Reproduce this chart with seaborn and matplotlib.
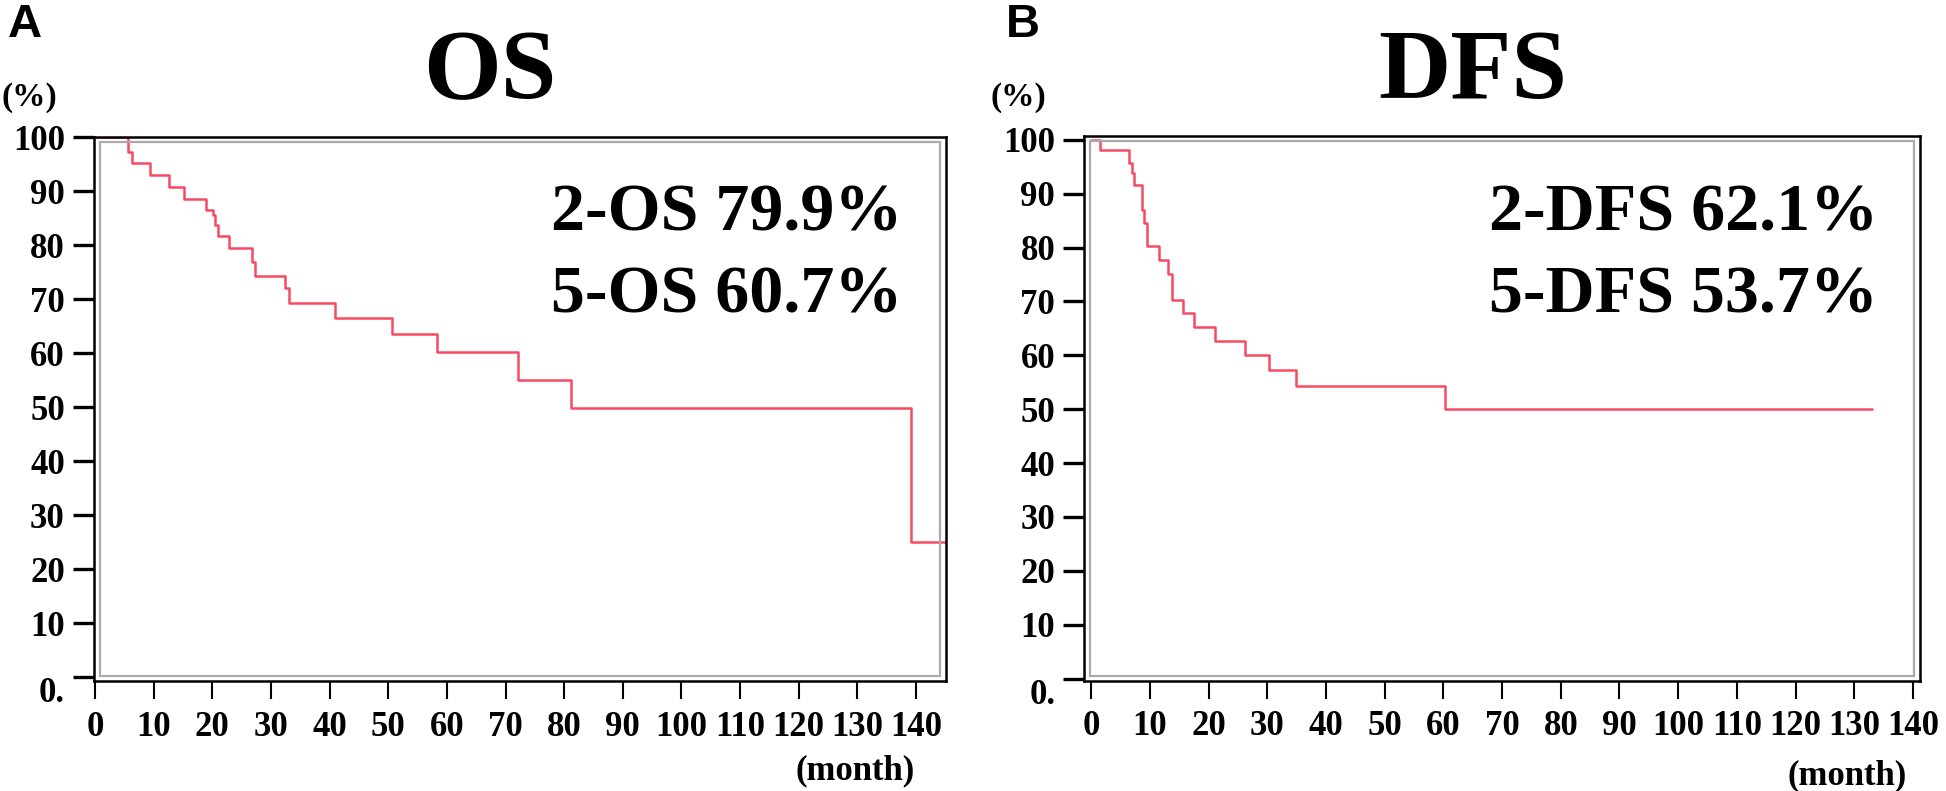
import matplotlib
matplotlib.use("Agg")
import matplotlib.pyplot as plt
from matplotlib.patches import Rectangle
import seaborn as sns

# Kaplan-Meier steps (month, % surviving)
os_months = [0, 5.7, 6.3, 9.4, 12.7, 15.1, 18.9, 20.2, 20.5, 21.0, 22.8, 26.7, 27.3,
             32.4, 33.0, 41.0, 50.6, 58.3, 72.1, 81.1, 139.2, 145.0]
os_pct = [100, 97.4, 95.2, 93.1, 90.9, 88.6, 86.6, 85.7, 83.8, 81.7, 79.5, 77.0, 74.4,
          72.1, 69.3, 66.5, 63.5, 60.3, 55.1, 49.9, 25.0, 25.0]

dfs_months = [0, 1.5, 6.5, 6.9, 7.3, 8.6, 9.0, 9.4, 11.6, 13.0, 13.7, 15.6, 17.5,
              21.1, 26.2, 30.2, 34.9, 60.3, 133.0]
dfs_pct = [100, 98.1, 95.7, 93.8, 91.6, 87.0, 84.5, 80.2, 77.7, 75.1, 70.3, 67.8, 65.2,
           62.7, 60.0, 57.2, 54.3, 50.1, 50.1]

panel_letters = ["A", "B"]
titles = ["OS", "DFS"]
rate_text = [["2-OS 79.9%", "5-OS 60.7%"], ["2-DFS 62.1%", "5-DFS 53.7%"]]
y_ticks = list(range(0, 101, 10))
y_tick_labels = ["0."] + [str(v) for v in y_ticks[1:]]
x_ticks = list(range(0, 141, 10))

sns.set_style("ticks")
plt.rcParams["font.family"] = ["Liberation Serif", "DejaVu Serif"]
plt.rcParams["font.weight"] = "bold"
plt.rcParams["text.color"] = "black"
plt.rcParams["xtick.color"] = "black"
plt.rcParams["ytick.color"] = "black"
plt.rcParams["axes.labelcolor"] = "black"

LINE_COLOR = "#f64a63"

fig = plt.figure(figsize=(19.46, 7.91), dpi=100)

# axes boxes [left, bottom, width, height] and x limits for each panel
boxes = [[0.0483, 0.1385, 0.4378, 0.6877], [0.5572, 0.1395, 0.4294, 0.6885]]
xlims = [(-0.17, 145.1), (-1.2, 141.2)]
ylims = [(-0.8, 100.0), (-0.4, 100.7)]
curves = [(os_months, os_pct), (dfs_months, dfs_pct)]

letter_x = [0.004, 0.517]
pct_x = [0.001, 0.509]
title_x = [0.2515, 0.757]
rate_right = [0.4635, 0.965]
month_x = [0.4394, 0.949]
month_y = [0.026, 0.019]

for i in range(2):
    ax = fig.add_axes(boxes[i])
    months, pct = curves[i]
    sns.lineplot(x=months, y=pct, ax=ax, drawstyle="steps-post", color=LINE_COLOR,
                 linewidth=1.8, estimator=None, errorbar=None, zorder=2)
    ax.set_xlim(*xlims[i])
    ax.set_ylim(*ylims[i])
    ax.set_xlabel("")
    ax.set_ylabel("")

    ax.set_yticks(y_ticks)
    ax.set_yticklabels(y_tick_labels)
    ax.set_xticks(x_ticks)
    ax.set_xticklabels([str(v) for v in x_ticks])
    ax.tick_params(axis="y", direction="out", length=15, width=2.4, pad=6,
                   labelsize=25, color="black", labelcolor="black")
    ax.tick_params(axis="x", direction="out", length=13, width=1.5, pad=8,
                   labelsize=25, color="black", labelcolor="black")
    for lab in ax.get_yticklabels() + ax.get_xticklabels():
        lab.set_fontweight("bold")
    ax.get_yticklabels()[0].set_verticalalignment("top")

    for sp in ax.spines.values():
        sp.set_visible(True)
        sp.set_color("black")
        sp.set_linewidth(1.8)
        sp.set_zorder(2.5)

    # inner grey plot frame
    bb = ax.get_window_extent()
    dx, dy = 6 / bb.width, 5 / bb.height
    ax.add_patch(Rectangle((dx, dy), 1 - 2 * dx, 1 - 2 * dy, transform=ax.transAxes,
                           fill=False, edgecolor="#aaaaaa", linewidth=1.6,
                           zorder=3, clip_on=False))

    fig.text(letter_x[i], 0.953, panel_letters[i], family=["Liberation Sans", "DejaVu Sans"],
             fontweight="bold", fontsize=34, ha="left", va="baseline")
    fig.text(pct_x[i], 0.877, "(%)", fontsize=24, fontweight="bold", ha="left", va="center")
    fig.text(title_x[i], 0.876, titles[i], fontsize=72, fontweight="bold",
             ha="center", va="baseline")
    fig.text(rate_right[i], 0.7085, rate_text[i][0], fontsize=49, fontweight="bold",
             ha="right", va="baseline")
    fig.text(rate_right[i], 0.6050, rate_text[i][1], fontsize=49, fontweight="bold",
             ha="right", va="baseline")
    fig.text(month_x[i], month_y[i], "(month)", fontsize=25, fontweight="bold",
             ha="center", va="center")

fig.savefig("out.png", dpi=100, facecolor="white")
